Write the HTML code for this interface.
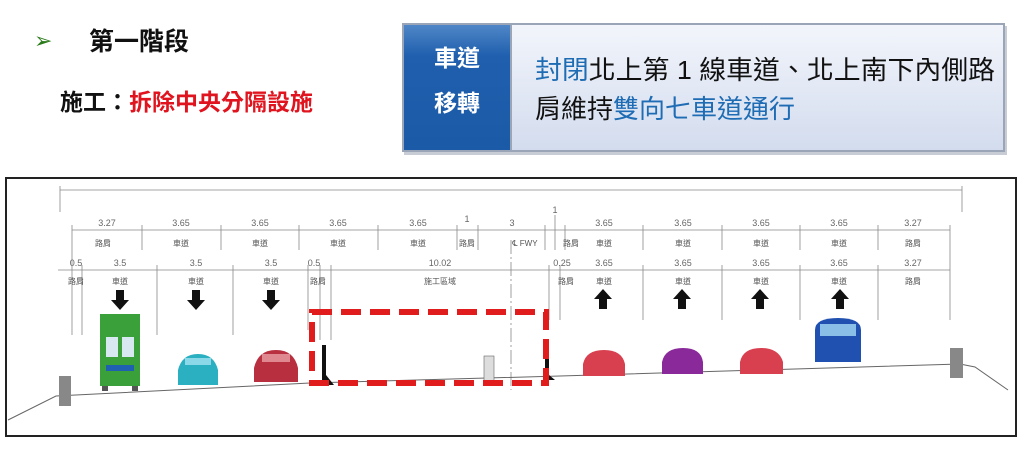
<!DOCTYPE html>
<html><head><meta charset="utf-8"><style>
body{margin:0;background:#fff;width:1024px;height:445px;overflow:hidden;font-family:"Liberation Sans","Noto Sans CJK TC",sans-serif}
</style></head><body>
<svg width="1024" height="445" xmlns="http://www.w3.org/2000/svg" font-family="Liberation Sans, Noto Sans CJK TC, sans-serif">
<defs>
<linearGradient id="lb" x1="0" y1="0" x2="0" y2="1"><stop offset="0" stop-color="#f2f5fb"/><stop offset="1" stop-color="#d3dcee"/></linearGradient>
<linearGradient id="db" x1="0" y1="0" x2="0" y2="1"><stop offset="0" stop-color="#4f86c6"/><stop offset="0.25" stop-color="#1f5fae"/><stop offset="1" stop-color="#1a5aa6"/></linearGradient>
</defs>
<text x="34" y="48" font-size="22" fill="#2a7a1a">➢</text>
<text x="89" y="50" font-size="25" font-weight="bold" fill="#111">第一階段</text>
<text x="60" y="110" font-size="23" font-weight="bold" fill="#111">施工：<tspan fill="#e0141e">拆除中央分隔設施</tspan></text>
<rect x="404" y="26" width="603" height="129" fill="#c8ccd4"/>
<rect x="402" y="23" width="603" height="129" fill="#9aa6b8"/>
<rect x="404" y="25" width="106" height="125" fill="url(#db)"/>
<rect x="512" y="25" width="491" height="125" fill="url(#lb)"/>
<text x="457" y="66" font-size="23" font-weight="bold" fill="#fff" text-anchor="middle">車道</text>
<text x="457" y="111" font-size="23" font-weight="bold" fill="#fff" text-anchor="middle">移轉</text>
<text x="535" y="79" font-size="26" fill="#111" textLength="460" lengthAdjust="spacingAndGlyphs"><tspan fill="#1e6cb4">封閉</tspan>北上第 1 線車道、北上南下內側路</text>
<text x="535" y="118" font-size="26" fill="#111">肩維持<tspan fill="#1e6cb4">雙向七車道通行</tspan></text>

<rect x="6" y="178" width="1010" height="258" fill="#fff" stroke="#222" stroke-width="2"/>
<g stroke="#888" stroke-width="0.8" fill="none">
<line x1="60" y1="190" x2="962" y2="190"/><line x1="60" y1="186" x2="60" y2="212"/><line x1="962" y1="186" x2="962" y2="212"/>
<line x1="72" y1="230" x2="950" y2="230"/>
<line x1="58" y1="270" x2="950" y2="270"/>
<g>
<line x1="72" y1="225" x2="72" y2="335"/><line x1="142" y1="225" x2="142" y2="250"/><line x1="221" y1="225" x2="221" y2="250"/><line x1="299" y1="225" x2="299" y2="250"/><line x1="378" y1="225" x2="378" y2="250"/><line x1="457" y1="225" x2="457" y2="250"/><line x1="478" y1="225" x2="478" y2="250"/><line x1="545" y1="225" x2="545" y2="250"/><line x1="555" y1="215" x2="555" y2="250"/><line x1="565" y1="225" x2="565" y2="250"/><line x1="643" y1="225" x2="643" y2="250"/><line x1="722" y1="225" x2="722" y2="250"/><line x1="800" y1="225" x2="800" y2="250"/><line x1="878" y1="225" x2="878" y2="250"/><line x1="950" y1="225" x2="950" y2="320"/>
<line x1="82" y1="265" x2="82" y2="335"/><line x1="157" y1="265" x2="157" y2="335"/><line x1="233" y1="265" x2="233" y2="335"/><line x1="308" y1="265" x2="308" y2="330"/><line x1="320" y1="265" x2="320" y2="340"/><line x1="331" y1="265" x2="331" y2="340"/><line x1="511" y1="240" x2="511" y2="390" stroke-dasharray="14 3 2 3"/><line x1="549" y1="265" x2="549" y2="320"/><line x1="560" y1="265" x2="560" y2="320"/><line x1="643" y1="265" x2="643" y2="320"/><line x1="722" y1="265" x2="722" y2="320"/><line x1="800" y1="265" x2="800" y2="320"/><line x1="878" y1="265" x2="878" y2="320"/>
</g>
</g>
<g font-size="9" fill="#666" text-anchor="middle">
<text x="107" y="226">3.27</text><text x="181" y="226">3.65</text><text x="260" y="226">3.65</text><text x="338" y="226">3.65</text><text x="418" y="226">3.65</text><text x="467" y="222">1</text><text x="512" y="226">3</text><text x="555" y="213">1</text>
<text x="604" y="226">3.65</text><text x="683" y="226">3.65</text><text x="761" y="226">3.65</text><text x="839" y="226">3.65</text><text x="913" y="226">3.27</text>
<text x="76" y="266">0.5</text><text x="120" y="266">3.5</text><text x="196" y="266">3.5</text><text x="271" y="266">3.5</text><text x="314" y="266">0.5</text><text x="440" y="266">10.02</text><text x="562" y="266">0.25</text><text x="604" y="266">3.65</text><text x="683" y="266">3.65</text><text x="761" y="266">3.65</text><text x="839" y="266">3.65</text><text x="913" y="266">3.27</text>
<g font-size="8" fill="#555">
<text x="103" y="246">路肩</text><text x="181" y="246">車道</text><text x="260" y="246">車道</text><text x="338" y="246">車道</text><text x="418" y="246">車道</text><text x="467" y="246">路肩</text><text x="525" y="246">℄ FWY</text><text x="571" y="246">路肩</text><text x="604" y="246">車道</text><text x="683" y="246">車道</text><text x="761" y="246">車道</text><text x="839" y="246">車道</text><text x="913" y="246">路肩</text>
<text x="76" y="284">路肩</text><text x="120" y="284">車道</text><text x="196" y="284">車道</text><text x="271" y="284">車道</text><text x="318" y="284">路肩</text><text x="440" y="284">施工區域</text><text x="566" y="284">路肩</text><text x="604" y="284">車道</text><text x="683" y="284">車道</text><text x="761" y="284">車道</text><text x="839" y="284">車道</text><text x="913" y="284">路肩</text>
</g></g>
<g fill="#111">
<path d="M116 290h8v10h5l-9 10-9-10h5z"/><path d="M192 290h8v10h5l-9 10-9-10h5z"/><path d="M267 290h8v10h5l-9 10-9-10h5z"/>
<path d="M599 309h8v-10h5l-9-10-9 10h5z"/><path d="M678 309h8v-10h5l-9-10-9 10h5z"/><path d="M756 309h8v-10h5l-9-10-9 10h5z"/><path d="M836 309h8v-10h5l-9-10-9 10h5z"/>
</g>
<polyline points="8,420 56,396 310,383 560,376 960,364 975,367 1008,390" fill="none" stroke="#666" stroke-width="1"/>
<rect x="59" y="376" width="12" height="30" fill="#888"/><rect x="950" y="348" width="13" height="30" fill="#888"/>
<rect x="100" y="314" width="40" height="72" fill="#3aa03a"/><rect x="106" y="337" width="12" height="20" fill="#d8e8f0"/><rect x="122" y="337" width="12" height="20" fill="#d8e8f0"/><rect x="106" y="365" width="28" height="6" fill="#2060b0"/><rect x="102" y="386" width="6" height="5" fill="#555"/><rect x="132" y="386" width="6" height="5" fill="#555"/>
<path d="M178 370q4-16 20-16t20 16v15h-40z" fill="#2ab0c0"/><rect x="185" y="358" width="26" height="7" fill="#8ad8e8"/>
<path d="M254 368q4-18 22-18t22 18v14h-44z" fill="#b83040"/><rect x="262" y="354" width="28" height="8" fill="#e08890"/>
<path d="M583 364q3-14 21-14t21 14v12h-42z" fill="#d84050"/>
<path d="M662 362q3-14 21-14t20 14v12h-41z" fill="#8a2a9a"/>
<path d="M740 362q3-14 21-14t22 14v12h-43z" fill="#d84050"/>
<path d="M815 330q0-12 23-12t23 12v32h-46z" fill="#2050b0"/><rect x="820" y="324" width="36" height="12" fill="#8ac0e8"/>
<path d="M322 385v-40h4v30l8 10z" fill="#111"/><path d="M545 380v-25h4v20l6 5z" fill="#111"/>
<rect x="484" y="356" width="10" height="26" fill="#ddd" stroke="#666" stroke-width="0.6"/>
<rect x="312" y="312" width="234" height="71" fill="none" stroke="#e11c1c" stroke-width="6" stroke-dasharray="20 9"/>
</svg>
</body></html>
